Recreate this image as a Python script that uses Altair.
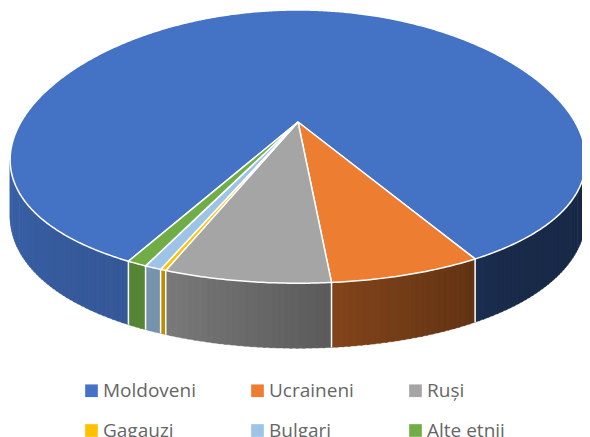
import numpy as np
import pandas as pd
import altair as alt

# ---------------- data ----------------
categories = ["Moldoveni", "Ucraineni", "Ruși", "Gagauzi", "Bulgari", "Alte etnii"]
shares = [84.2, 6.7, 7.2, 0.25, 0.75, 0.9]
face_colors = ["#4472C4", "#ED7D31", "#A5A5A5", "#FFC000", "#9DC3E6", "#70AD47"]

# ---------------- 3-D pie geometry (style) ----------------
START_DEG = 117.7          # angle of first slice edge (clockwise on screen)
CX, CY = 290.0, 114.0      # projected centre (px inside chart)
RX, RY = 277.0, 132.2      # radii
PY, PX = 0.18, 0.272       # perspective factors
DEPTH = 53.3               # wall height (px at centre depth)
W, H = 574, 429
D = DEPTH / RY

shade_deg = [15, 55, 85, 115, 165]
shade_val = [0.36, 0.38, 0.55, 0.77, 0.86]


def proj(theta_deg, drop=0.0):
    t = np.radians(theta_deg)
    X, Y = np.cos(t), np.sin(t)
    u = X / (1 - PX * Y)
    v = (Y + drop) / (1 - PY * Y)
    return u, v


def shade(hexcol, theta):
    f = float(np.interp(theta, shade_deg, shade_val))
    r, g, b = (int(hexcol[i:i + 2], 16) for i in (1, 3, 5))
    return "#%02x%02x%02x" % (int(r * f), int(g * f), int(b * f))


total = float(sum(shares))
bounds = []
acc = START_DEG
for s in shares:
    a0 = acc
    a1 = acc + s / total * 360.0
    bounds.append((a0, a1))
    acc = a1

# top faces
face_rows = []
for cat, (a0, a1) in zip(categories, bounds):
    n = max(2, int(np.ceil((a1 - a0) / 0.5)))
    th = np.linspace(a0, a1, n + 1)
    u, v = proj(th)
    k = 0
    face_rows.append(dict(cat=cat, k=k, u=0.0, v=0.0)); k += 1
    for uu, vv in zip(u, v):
        face_rows.append(dict(cat=cat, k=k, u=float(uu), v=float(vv))); k += 1
    face_rows.append(dict(cat=cat, k=k, u=0.0, v=0.0))
faces = pd.DataFrame(face_rows)

# side walls (thin strips shaded by angle, slightly overlapping)
vis_lo = float(np.degrees(np.arcsin(PX)))
vis_hi = 180.0 - vis_lo
wall_rows = []
rule_rows = []
sid = 0
for cat, col, (a0, a1) in zip(categories, face_colors, bounds):
    for off in (0.0, 360.0):
        lo = max(a0, vis_lo + off)
        hi = min(a1, vis_hi + off)
        if hi <= lo:
            continue
        m = max(1, int(np.ceil(hi - lo)))
        edges = np.linspace(lo, hi, m + 1)
        for j, (t1, t2) in enumerate(zip(edges[:-1], edges[1:])):
            c = shade(col, (t1 + t2) / 2 - off)
            t2e = t2 if j == m - 1 else t2 + 0.35 * (t2 - t1)
            pts = [proj(t1), proj(t2e), proj(t2e, D), proj(t1, D), proj(t1)]
            for k, (uu, vv) in enumerate(pts):
                wall_rows.append(dict(sid=sid, k=k, u=float(uu), v=float(vv), col=c))
            sid += 1
    b = a0 % 360.0
    if vis_lo <= b <= vis_hi:
        ut, vt = proj(b)
        _, vb = proj(b, D)
        rule_rows.append(dict(u=float(ut), v=float(vt), v2=float(vb)))
walls = pd.DataFrame(wall_rows)
rules = pd.DataFrame(rule_rows)

xs = alt.Scale(domain=[-CX / RX, (W - CX) / RX], nice=False, zero=False)
ys = alt.Scale(domain=[-CY / RY, (H - CY) / RY], nice=False, zero=False, reverse=True)

wall_layer = alt.Chart(walls).mark_line(filled=True, strokeWidth=0.4).encode(
    x=alt.X("u:Q", scale=xs, axis=None),
    y=alt.Y("v:Q", scale=ys, axis=None),
    order=alt.Order("k:Q"),
    detail="sid:N",
    fill=alt.Fill("col:N", scale=None, legend=None),
    stroke=alt.Stroke("col:N", scale=None, legend=None),
)

rule_layer = alt.Chart(rules).mark_rule(color="white", strokeWidth=1.5).encode(
    x=alt.X("u:Q", scale=xs, axis=None),
    y=alt.Y("v:Q", scale=ys, axis=None),
    y2="v2:Q",
)

face_layer = alt.Chart(faces).mark_line(
    filled=True, stroke="white", strokeWidth=1.5, strokeJoin="round"
).encode(
    x=alt.X("u:Q", scale=xs, axis=None),
    y=alt.Y("v:Q", scale=ys, axis=None),
    order=alt.Order("k:Q"),
    detail="cat:N",
    fill=alt.Fill(
        "cat:N",
        scale=alt.Scale(domain=categories, range=face_colors),
        title=None,
        legend=alt.Legend(
            orient="none", legendX=74, legendY=373, direction="horizontal",
            columns=3, symbolType="square", symbolSize=160, symbolStrokeWidth=0,
            symbolOpacity=1, labelFont="Open Sans", labelFontSize=19,
            labelColor="#666666", labelOffset=2, columnPadding=52,
            rowPadding=20, padding=0, labelLimit=300,
        ),
    ),
)

chart = alt.layer(wall_layer, rule_layer, face_layer).resolve_scale(
    fill="independent", stroke="independent"
).resolve_legend(fill="independent").properties(
    width=W, height=H, padding=0, autosize=alt.AutoSizeParams(type="none")
).configure_view(strokeWidth=0)

chart.save("out.html", embed_options={"renderer": "svg", "actions": False})
